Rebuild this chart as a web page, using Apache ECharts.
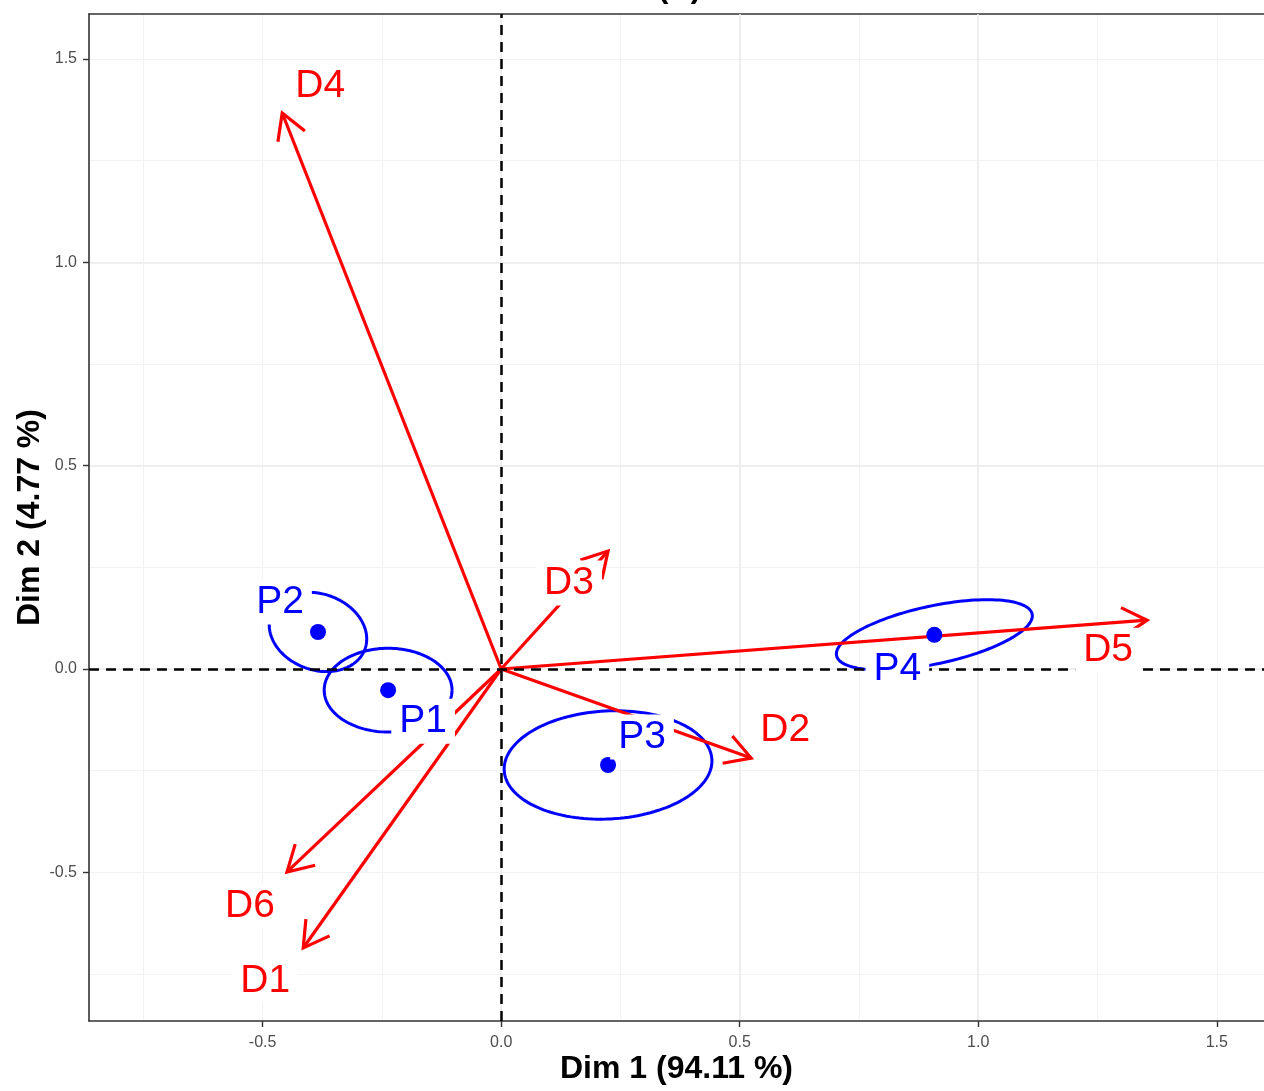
<!DOCTYPE html>
<html><head><meta charset="utf-8">
<script src="https://cdn.jsdelivr.net/npm/echarts@6/dist/echarts.min.js"></script>
<style>html,body{margin:0;padding:0;background:#fff;overflow:hidden}#chart{width:1264px;height:1091px}</style>
</head><body><div id="chart"></div>
<script>
// ---------------- data ----------------
const pointNames = ['P1', 'P2', 'P3', 'P4'];
const pointX = [-0.237, -0.384, 0.224, 0.908];
const pointY = [-0.052, 0.091, -0.236, 0.084];
// confidence ellipses: conjugate semi-diameters (data units)
const ellipseMajorX = [0.134, 0.0985, 0.2177, 0.2050];
const ellipseMajorY = [0.000, -0.0420, 0.0134, 0.0511];
const ellipseMinorX = [0.000, 0.0272, -0.0059, -0.0126];
const ellipseMinorY = [0.103, 0.0878, 0.1326, 0.0697];

const variableNames = ['D1', 'D2', 'D3', 'D4', 'D5', 'D6'];
const arrowX = [-0.415, 0.524, 0.224, -0.459, 1.354, -0.449];
const arrowY = [-0.686, -0.219, 0.290, 1.367, 0.120, -0.499];

const xTicks = [-0.5, 0, 0.5, 1, 1.5];
const yTicks = [-0.5, 0, 0.5, 1, 1.5];
const xTitle = 'Dim 1 (94.11 %)';
const yTitle = 'Dim 2 (4.77 %)';
const chartTitle = '(A)';

// ---------------- layout / style ----------------
const X_MIN = -0.864, X_MAX = 1.599, Y_MIN = -0.8655, Y_MAX = 1.6105;
const pointLabelOffset = { P1: [35, 31], P2: [-38, -30], P3: [34, -28], P4: [-37, 34] };
const varLabelOffset = { D1: [-38, 33], D2: [34, -28], D3: [-39, 32], D4: [38, -27], D5: [-39, 30], D6: [-37, 34] };
const BLUE = '#0000FF', RED = '#FF0000';
const FONT = '"Liberation Sans", Arial, sans-serif';

const chart = echarts.init(document.getElementById('chart'), null, { renderer: 'canvas' });

const ellipseData = pointNames.map((n, i) => [pointX[i], pointY[i], ellipseMajorX[i], ellipseMajorY[i], ellipseMinorX[i], ellipseMinorY[i]]);
const arrowData = variableNames.map((n, i) => [arrowX[i], arrowY[i]]);
const pointData = pointNames.map((n, i) => [pointX[i], pointY[i]]);
const labelData = pointNames.map((n, i) => [pointX[i], pointY[i], n, 0])
  .concat(variableNames.map((n, i) => [arrowX[i], arrowY[i], n, 1]));

const fmt = v => Number(v).toFixed(1);

function majorAxis(isX) {
  return {
    type: 'value', min: isX ? X_MIN : Y_MIN, max: isX ? X_MAX : Y_MAX,
    minInterval: 0.5, maxInterval: 0.5,
    position: isX ? 'bottom' : 'left',
    axisLine: { show: true, onZero: false, lineStyle: { color: '#333333', width: 1.6 } },
    axisTick: { show: true, length: 6, customValues: isX ? xTicks : yTicks, lineStyle: { color: '#333333', width: 1.4 } },
    axisLabel: { show: true, customValues: isX ? xTicks : yTicks, formatter: fmt, fontFamily: FONT, fontSize: 16, color: '#4D4D4D', margin: isX ? 14 : 12 },
    splitLine: { show: true, showMinLine: false, showMaxLine: false, lineStyle: { color: '#EBEBEB', width: 1.6 } },
    name: isX ? xTitle : yTitle,
    nameLocation: 'middle',
    nameMoveOverlap: false,
    nameGap: isX ? 32 : 43,
    nameTextStyle: { fontFamily: FONT, fontSize: 32, fontWeight: 'bold', color: '#000' },
    z: 1
  };
}
function minorAxis(isX) {
  return {
    type: 'value', min: isX ? X_MIN : Y_MIN, max: isX ? X_MAX : Y_MAX,
    minInterval: 0.25, maxInterval: 0.25,
    position: isX ? 'top' : 'right',
    axisLine: { show: isX, onZero: false, lineStyle: { color: '#333333', width: 1.6 } },
    axisTick: { show: false }, axisLabel: { show: false },
    splitLine: { show: true, showMinLine: false, showMaxLine: false, lineStyle: { color: '#F2F2F2', width: 1 } },
    z: 0
  };
}

const option = {
  animation: false,
  backgroundColor: '#FFFFFF',
  title: {
    text: chartTitle, left: 653, top: -32,
    textStyle: { fontFamily: FONT, fontSize: 31, fontWeight: 'bold', color: '#000' }
  },
  grid: { left: 89, top: 14, right: 0, bottom: 70, show: false, containLabel: false },
  xAxis: [majorAxis(true), minorAxis(true)],
  yAxis: [majorAxis(false), minorAxis(false)],
  series: [
    {
      type: 'line', data: [], xAxisIndex: 0, yAxisIndex: 0, z: 1, silent: true,
      markLine: {
        silent: true, symbol: ['none', 'none'], label: { show: false },
        lineStyle: { color: '#000000', width: 2.5, type: [10, 7] },
        data: [{ xAxis: 0 }, { yAxis: 0 }]
      }
    },
    {
      type: 'custom', name: 'ellipses', z: 3, data: ellipseData,
      encode: { x: 0, y: 1 },
      renderItem: function (params, api) {
        const cx = api.value(0), cy = api.value(1), ux = api.value(2), uy = api.value(3), vx = api.value(4), vy = api.value(5);
        const pts = [];
        for (let k = 0; k <= 144; k++) {
          const t = k / 144 * 2 * Math.PI;
          pts.push(api.coord([cx + ux * Math.cos(t) + vx * Math.sin(t), cy + uy * Math.cos(t) + vy * Math.sin(t)]));
        }
        return { type: 'polyline', shape: { points: pts }, style: { stroke: BLUE, lineWidth: 3, fill: null } };
      }
    },
    {
      type: 'custom', name: 'arrows', z: 4, data: arrowData,
      encode: { x: 0, y: 1 },
      renderItem: function (params, api) {
        const o = api.coord([0, 0]);
        const p = api.coord([api.value(0), api.value(1)]);
        const ang = Math.atan2(p[1] - o[1], p[0] - o[0]);
        const L = 29, a = Math.PI / 6;
        const h1 = [p[0] - L * Math.cos(ang - a), p[1] - L * Math.sin(ang - a)];
        const h2 = [p[0] - L * Math.cos(ang + a), p[1] - L * Math.sin(ang + a)];
        return {
          type: 'group', children: [
            { type: 'line', shape: { x1: o[0], y1: o[1], x2: p[0], y2: p[1] }, style: { stroke: RED, lineWidth: 3.2 } },
            { type: 'polyline', shape: { points: [h1, p, h2] }, style: { stroke: RED, lineWidth: 3.2, fill: null, lineJoin: 'miter' } }
          ]
        };
      }
    },
    {
      type: 'scatter', name: 'points', z: 5, data: pointData,
      symbol: 'circle', symbolSize: 16, itemStyle: { color: BLUE, opacity: 1 }
    },
    {
      type: 'custom', name: 'labels', z: 10, data: labelData,
      encode: { x: 0, y: 1 },
      renderItem: function (params, api) {
        const c = api.coord([api.value(0), api.value(1)]);
        const name = labelData[params.dataIndex][2];
        const isVar = labelData[params.dataIndex][3] === 1;
        const off = isVar ? varLabelOffset[name] : pointLabelOffset[name];
        return {
          type: 'text', x: c[0] + off[0], y: c[1] + off[1],
          style: {
            text: name, fill: isVar ? RED : BLUE,
            font: '39px ' + FONT, align: 'center', verticalAlign: 'middle',
            backgroundColor: '#FFFFFF', padding: [3, 8]
          }
        };
      }
    }
  ]
};
chart.setOption(option);
</script>
</body></html>
